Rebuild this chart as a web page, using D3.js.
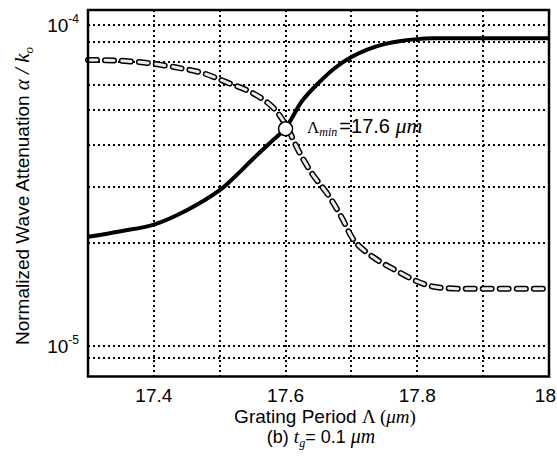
<!DOCTYPE html>
<html><head><meta charset="utf-8">
<script src="https://cdn.jsdelivr.net/npm/d3@7"></script>
<style>body{margin:0;background:#fff} svg{display:block}</style>
</head><body>
<svg id="chart" width="557" height="460"></svg>
<script>
// Grating period (µm) and normalized attenuation for the two modes
const periodSolid = [17.3, 17.35, 17.4, 17.45, 17.5, 17.525, 17.55, 17.575, 17.6, 17.625, 17.65, 17.675, 17.70, 17.725, 17.75, 17.775, 17.8, 17.825, 17.9, 18.0];
const attenSolid  = [2.19e-5, 2.28e-5, 2.39e-5, 2.65e-5, 3.06e-5, 3.40e-5, 3.82e-5, 4.27e-5, 4.78e-5, 5.80e-5, 6.60e-5, 7.35e-5, 7.95e-5, 8.40e-5, 8.72e-5, 8.92e-5, 9.04e-5, 9.09e-5, 9.09e-5, 9.09e-5];

const periodDashed = [17.3, 17.34, 17.39, 17.44, 17.475, 17.51, 17.55, 17.58, 17.6, 17.62, 17.64, 17.665, 17.685, 17.705, 17.735, 17.77, 17.8, 17.825, 17.86, 17.9, 18.0];
const attenDashed  = [7.78e-5, 7.76e-5, 7.62e-5, 7.34e-5, 7.08e-5, 6.64e-5, 6.14e-5, 5.56e-5, 4.90e-5, 4.05e-5, 3.45e-5, 2.95e-5, 2.52e-5, 2.12e-5, 1.88e-5, 1.71e-5, 1.59e-5, 1.53e-5, 1.51e-5, 1.51e-5, 1.51e-5];

// Minimum-period marker
const minPeriod = 17.6;
const minAtten = 4.75e-5;

// Axis ticks and grid
const xTickLabels = [17.4, 17.6, 17.8, 18];
const xGrid = [17.4, 17.5, 17.6, 17.7, 17.8, 17.9];
const yTickLabels = [1e-4, 1e-5];
const yTickExp = ["-4", "-5"];
const yGrid = [1e-4, 8.87e-5, 7.68e-5, 6.5e-5, 5.43e-5, 4.22e-5, 3.14e-5, 2.1e-5, 1e-5, 9.15e-6];

const svg = d3.select("#chart");
const L = 88, R = 549, T = 10, B = 376.5;

const x = d3.scaleLinear().domain([17.3, 18]).range([L, R]);
const y = d3.scaleLog().domain([8.04e-6, 1.114e-4]).range([B, T]);

svg.append("rect").attr("width", 557).attr("height", 460).attr("fill", "#fff");

// dotted grid
const grid = svg.append("g").attr("stroke", "#000").attr("stroke-width", 2)
  .attr("stroke-dasharray", "2,3").attr("fill", "none").attr("shape-rendering", "crispEdges");
grid.selectAll("line.h").data(yGrid).join("line").attr("class", "h")
  .attr("x1", L).attr("x2", R).attr("y1", d => Math.round(y(d))).attr("y2", d => Math.round(y(d)));
grid.selectAll("line.v").data(xGrid).join("line").attr("class", "v")
  .attr("y1", T).attr("y2", B).attr("x1", d => Math.round(x(d))).attr("x2", d => Math.round(x(d)));

// curves
const line = d3.line().x(d => x(d[0])).y(d => y(d[1])).curve(d3.curveCatmullRom.alpha(0.5));
const solid = d3.zip(periodSolid, attenSolid);
const dashed = d3.zip(periodDashed, attenDashed);

svg.append("path").datum(dashed).attr("d", line).attr("fill", "none")
  .attr("stroke", "#000").attr("stroke-width", 6).attr("stroke-dasharray", "9,8")
  .attr("stroke-linecap", "round");
svg.append("path").datum(dashed).attr("d", line).attr("fill", "none")
  .attr("stroke", "#ececec").attr("stroke-width", 3).attr("stroke-dasharray", "9,8")
  .attr("stroke-linecap", "round");

svg.append("path").datum(solid).attr("d", line).attr("fill", "none")
  .attr("stroke", "#000").attr("stroke-width", 4).attr("stroke-linejoin", "round");

svg.append("circle").attr("cx", x(minPeriod)).attr("cy", y(minAtten)).attr("r", 7)
  .attr("fill", "#fff").attr("stroke", "#000").attr("stroke-width", 1.5);

// frame
svg.append("rect").attr("x", L).attr("y", T).attr("width", R - L).attr("height", B - T)
  .attr("fill", "none").attr("stroke", "#000").attr("stroke-width", 2.5);

const sans = "'Liberation Sans', Arial, sans-serif";
const serif = "'Liberation Serif', 'Times New Roman', serif";

// x tick labels (the last one sits flush with the right edge)
svg.append("g").selectAll("text").data(xTickLabels).join("text")
  .attr("x", (d, i) => i === xTickLabels.length - 1 ? 556 : x(d)).attr("y", 402)
  .attr("text-anchor", (d, i) => i === xTickLabels.length - 1 ? "end" : "middle")
  .attr("font-family", sans).attr("font-size", 19).text(d => d3.format("")(d));

// y tick labels
const yt = svg.append("g").selectAll("text").data(yTickLabels).join("text")
  .attr("x", 79).attr("y", d => y(d) + 7).attr("text-anchor", "end")
  .attr("font-family", sans).attr("font-size", 19);
yt.append("tspan").text("10");
yt.append("tspan").attr("font-size", 12).attr("dy", -9).text((d, i) => yTickExp[i]);

// y axis title
const yl = svg.append("text").attr("transform", "translate(29,196) rotate(-90)")
  .attr("text-anchor", "middle").attr("font-family", sans).attr("font-size", 19);
yl.append("tspan").text("Normalized Wave Attenuation  ");
yl.append("tspan").attr("font-family", serif).attr("font-style", "italic").attr("font-size", 21).text("α / k");
yl.append("tspan").attr("font-family", serif).attr("font-style", "italic").attr("font-size", 13).attr("dy", 4).text("o");

// x axis title
const xl = svg.append("text").attr("x", 325).attr("y", 423).attr("text-anchor", "middle")
  .attr("font-family", sans).attr("font-size", 19);
xl.append("tspan").text("Grating Period  ");
xl.append("tspan").attr("font-family", serif).attr("font-size", 19).text("Λ (");
xl.append("tspan").attr("font-family", serif).attr("font-style", "italic").attr("font-size", 19).text("μm");
xl.append("tspan").attr("font-family", serif).attr("font-size", 19).text(")");

const cap = svg.append("text").attr("x", 321).attr("y", 443).attr("text-anchor", "middle")
  .attr("font-family", sans).attr("font-size", 18);
cap.append("tspan").text("(b) ");
cap.append("tspan").attr("font-family", serif).attr("font-style", "italic").attr("font-size", 19).text("t");
cap.append("tspan").attr("font-family", serif).attr("font-style", "italic").attr("font-size", 12).attr("dy", 4).text("g");
cap.append("tspan").attr("dy", -4).text("= 0.1 ");
cap.append("tspan").attr("font-family", serif).attr("font-style", "italic").attr("font-size", 20).text("μm");

// annotation
const ann = svg.append("text").attr("x", 307).attr("y", 133).attr("font-family", sans).attr("font-size", 20);
ann.append("tspan").attr("font-family", serif).attr("font-size", 17).text("Λ");
ann.append("tspan").attr("font-family", serif).attr("font-style", "italic").attr("font-size", 12).attr("dy", 3).text("min");
ann.append("tspan").attr("dy", -3).attr("dx", 2).text("=17.6 ");
ann.append("tspan").attr("font-family", serif).attr("font-style", "italic").attr("font-size", 22).text("μm");
</script>
</body></html>
